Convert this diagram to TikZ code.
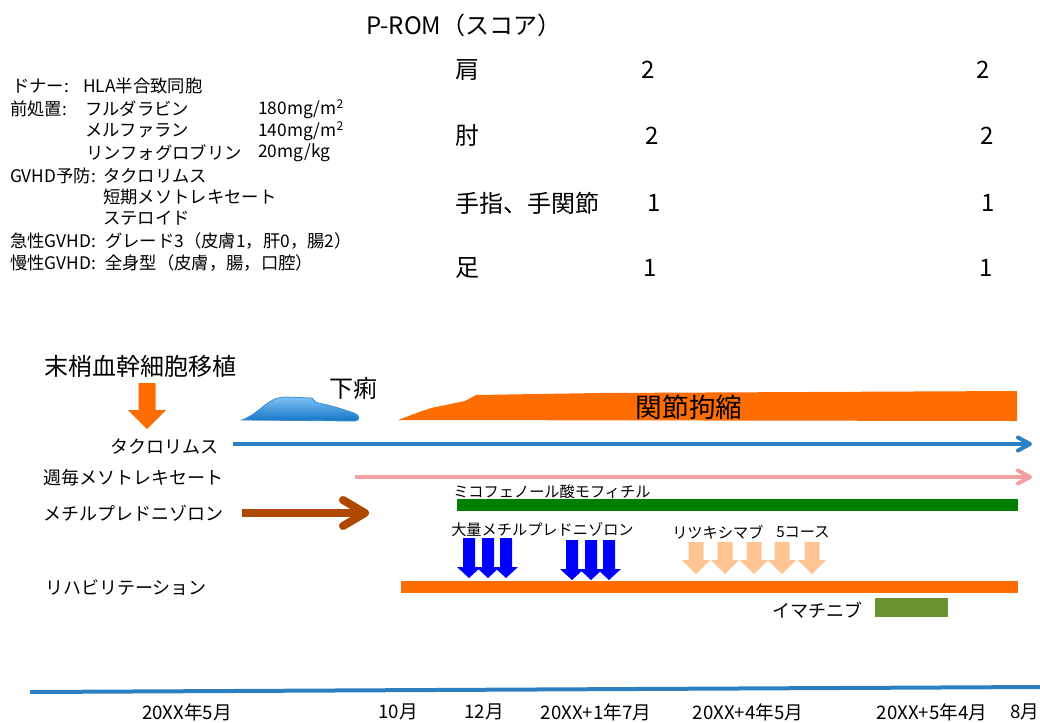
\documentclass[tikz,border=0pt]{standalone}
\usepackage{fontspec}
\setmainfont{Noto Sans CJK JP}
\definecolor{jorange}{HTML}{FF6C00}
\definecolor{tacblue}{HTML}{2C80C2}
\definecolor{mtxpink}{HTML}{F2A0A0}
\definecolor{mpbrown}{HTML}{AF4800}
\definecolor{mmfgreen}{HTML}{008000}
\definecolor{pulseblue}{HTML}{0000FF}
\definecolor{ritpeach}{HTML}{FFC492}
\definecolor{imaolive}{HTML}{6B9331}
\definecolor{hilltop}{HTML}{7EC1F4}
\definecolor{hillbot}{HTML}{1475C6}
\definecolor{hilledge}{HTML}{3B8ED4}
\newcommand{\blockdown}[7]{%
  \fill[#7] (#1-#5,#2) -- (#1+#5,#2) -- (#1+#5,#3) -- (#1+#6,#3) -- (#1,#4) -- (#1-#6,#3) -- (#1-#5,#3) -- cycle;}
\begin{document}
\begin{tikzpicture}[x=0.75pt,y=-0.75pt,
  info/.style={inner sep=0pt,anchor=west,font=\fontsize{13}{15}\selectfont},
  joint/.style={inner sep=0pt,anchor=west,font=\fontsize{18}{20}\selectfont},
  score/.style={inner sep=0pt,font=\fontsize{18}{20}\selectfont},
  drug/.style={inner sep=0pt,anchor=west,font=\fontsize{13.5}{15}\selectfont},
  small/.style={inner sep=0pt,anchor=west,font=\fontsize{11.4}{13}\selectfont},
  big/.style={inner sep=0pt,font=\fontsize{18}{20}\selectfont},
  axislbl/.style={inner sep=0pt,font=\fontsize{14}{16}\selectfont},
  chev/.style={line width=3pt,line cap=round,line join=round}]
\useasboundingbox (0,0) rectangle (1040,722);

% title
\node[inner sep=0pt,anchor=west,font=\fontsize{18}{20}\selectfont] (title) at (366,25) {P-ROM（スコア）};

% left info block
\node[info] (don) at (12,86) {ドナー:};
\node[info] (donv) at (83,86) {HLA半合致同胞};
\node[info] (pre) at (10,109) {前処置:};
\node[info] (pre1) at (85,109) {フルダラビン};
\node[info] (pre2) at (85,131) {メルファラン};
\node[info] (pre3) at (86,153) {リンフォグロブリン};
\node[info] (dose1) at (258,109) {180mg/m\textsuperscript{2}};
\node[info] (dose2) at (258,131) {140mg/m\textsuperscript{2}};
\node[info] (dose3) at (258,153) {20mg/kg};
\node[info] (gv) at (10,176) {GVHD予防:};
\node[info] (gv1) at (103,176) {タクロリムス};
\node[info] (gv2) at (103,197) {短期メソトレキセート};
\node[info] (gv3) at (103,218) {ステロイド};
\node[info] (agv) at (10,241) {急性GVHD:};
\node[info] (agvv) at (105,241) {グレード3（皮膚1，肝0，腸2）};
\node[info] (cgv) at (10,263) {慢性GVHD:};
\node[info] (cgvv) at (105,263) {全身型（皮膚，腸，口腔）};

% P-ROM table
\node[joint] (j1) at (455,70) {肩};
\node[joint] (j2) at (455,135) {肘};
\node[joint] (j3) at (455,203) {手指、手関節};
\node[joint] (j4) at (455,268) {足};
\node[score] (s1a) at (648,70) {2};
\node[score] (s1b) at (983,70) {2};
\node[score] (s2a) at (652,136) {2};
\node[score] (s2b) at (987,136) {2};
\node[score] (s3a) at (654,203) {1};
\node[score] (s3b) at (988,203) {1};
\node[score] (s4a) at (650,268) {1};
\node[score] (s4b) at (986,268) {1};

% transplant
\node[big] (pbsct) at (141,366) {末梢血幹細胞移植};
\blockdown{147}{383}{410}{429}{8.5}{19}{jorange}

% diarrhea hill
\path[draw=hilledge,line width=0.6pt,top color=hilltop,bottom color=hillbot]
  (242,420) .. controls (262,412) and (266,398) .. (285,397) -- (312,398)
  .. controls (314,399) and (314,402) .. (318,403)
  .. controls (330,405) and (345,410) .. (354,413)
  .. controls (360,415) and (361,421) .. (354,421) -- cycle;
\node[big] (diar) at (353,388) {下痢};

% joint contracture
\fill[jorange] (398,420) -- (422,411) -- (431,408) -- (465,401) -- (476,395)
  -- (600,393) -- (1017,391) -- (1017,421) -- cycle;
\node[inner sep=0pt,font=\fontsize{20}{22}\selectfont] (contr) at (689,407) {関節拘縮};

% tacrolimus
\node[drug] (tac) at (110,447) {タクロリムス};
\coordinate (tacS) at (233,444);
\coordinate (tacE) at (1030,444);
\draw[tacblue,line width=3pt] (tacS) -- (tacE);
\draw[tacblue,chev] (1018,437.5) -- (tacE) -- (1018,450.5);

% weekly MTX
\node[drug] (mtx) at (43,478) {週毎メソトレキセート};
\coordinate (mtxS) at (355,477);
\coordinate (mtxE) at (1030,477);
\draw[mtxpink,line width=3pt] (mtxS) -- (mtxE);
\draw[mtxpink,chev] (1018,470.5) -- (mtxE) -- (1018,483.5);

% methylprednisolone
\node[drug] (mp) at (43,513) {メチルプレドニゾロン};
\coordinate (mpS) at (242,513);
\coordinate (mpE) at (365,513);
\draw[mpbrown,line width=6pt] (mpS) -- (360,513);
\draw[mpbrown,line width=6pt,line cap=round,line join=round] (343,500) -- (mpE) -- (343,526);

% MMF
\node[small] (mmf) at (453,492) {ミコフェノール酸モフィチル};
\fill[mmfgreen] (457,499) rectangle (1018,511);

% pulse
\node[small] (pulse) at (451,530) {大量メチルプレドニゾロン};
\foreach \cx in {469,488,506} {\blockdown{\cx}{538}{567}{578}{6}{12}{pulseblue}}
\foreach \cx in {572,591,609} {\blockdown{\cx}{540}{569}{580}{6}{12}{pulseblue}}

% rituximab
\node[small] (rit) at (672,532) {リツキシマブ};
\node[small] (rit5) at (776,532) {5コース};
\foreach \cx in {696,725,754,782,812} {\blockdown{\cx}{542}{560}{574}{7.5}{14}{ritpeach}}

% rehab
\node[drug] (reh) at (45,588) {リハビリテーション};
\fill[jorange] (401,581) rectangle (1018,593);

% imatinib
\node[drug] (ima) at (772,610) {イマチニブ};
\fill[imaolive] (875,598) rectangle (948,617);

% time axis
\coordinate (axL) at (30,692);
\coordinate (axR) at (1040,687);
\draw[tacblue,line width=3pt] (axL) -- (axR);
\node[axislbl] (t1) at (187,712) {20XX年5月};
\node[axislbl] (t2) at (398,712) {10月};
\node[axislbl] (t3) at (484,712) {12月};
\node[axislbl] (t4) at (596,712) {20XX+1年7月};
\node[axislbl] (t5) at (748,712) {20XX+4年5月};
\node[axislbl] (t6) at (932,712) {20XX+5年4月};
\node[axislbl] (t7) at (1025,712) {8月};
\end{tikzpicture}
\end{document}
